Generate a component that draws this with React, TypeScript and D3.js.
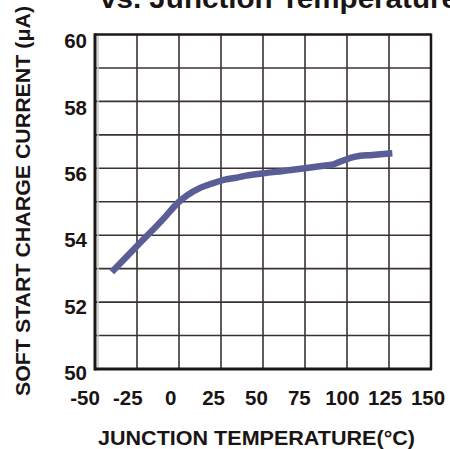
import * as d3 from "d3";
import * as React from "react";

const W = 450;
const H = 449;

// junction temperature (°C) vs soft start charge current (µA)
const temps = [-40, -25, -10, 0, 5, 12, 20, 28, 33, 40, 50, 62, 75, 85, 92, 97, 105, 115, 127];
const current = [52.9, 53.68, 54.45, 55.0, 55.2, 55.4, 55.55, 55.67, 55.71, 55.78, 55.85, 55.92, 56.0, 56.07, 56.12, 56.22, 56.35, 56.4, 56.45];

const xTicks = [-50, -25, 0, 25, 50, 75, 100, 125, 150];
const yTicks = [50, 52, 54, 56, 58, 60];
const yGridTicks = [50, 51, 52, 53, 54, 55, 56, 57, 58, 59, 60];

const FONT = "'Liberation Sans', Arial, Helvetica, sans-serif";

export default function App() {
  const margin = { top: 34.5, right: 19, bottom: 80, left: 95 };
  const x0 = margin.left,
    x1 = W - margin.right,
    y0 = H - margin.bottom,
    y1 = margin.top;

  const x = d3.scaleLinear().domain([-50, 150]).range([x0, x1]);
  const y = d3.scaleLinear().domain([50, 60]).range([y0, y1]);

  // labels in the original sit slightly off the grid
  const xLab = d3.scaleLinear().domain([-50, 150]).range([85, 428]);
  const yLab = d3.scaleLinear().domain([50, 60]).range([372.5, 41]);

  const line = d3
    .line<number>()
    .x((d, i) => x(temps[i]))
    .y((d) => y(d))
    .curve(d3.curveMonotoneX);

  const gridColor = "#3a3232";
  const axisColor = "#1c1616";

  return (
    <svg
      width={W}
      height={H}
      style={{ position: "absolute", left: 0, top: 0, background: "#fff" }}
      fontFamily={FONT}
    >
      <rect width={W} height={H} fill="#fff" />
      <text
        x={100}
        y={8}
        fontSize={28}
        fontWeight="bold"
        fill="#1a1414"
        textLength={358}
        lengthAdjust="spacingAndGlyphs"
      >
        vs. Junction Temperature
      </text>

      {/* grid */}
      {xTicks.slice(1, -1).map((t) => (
        <line key={"vx" + t} x1={x(t)} x2={x(t)} y1={y1} y2={y0} stroke={gridColor} strokeWidth={1.6} />
      ))}
      {yGridTicks.slice(1, -1).map((t) => (
        <line key={"hy" + t} x1={x0} x2={x1} y1={y(t)} y2={y(t)} stroke={gridColor} strokeWidth={1.6} />
      ))}
      <line x1={x0 + 3} x2={x0 + 3} y1={y1} y2={y0} stroke="#c8c6c6" strokeWidth={1.5} />

      {/* frame */}
      <line x1={x0} x2={x1} y1={y1} y2={y1} stroke={axisColor} strokeWidth={2.5} />
      <line x1={x1} x2={x1} y1={y1 - 1} y2={y0 + 1} stroke={axisColor} strokeWidth={2.5} />
      <line x1={x0} x2={x1 + 1} y1={y0} y2={y0} stroke={axisColor} strokeWidth={3} />
      <line x1={x0} x2={x0} y1={y1 - 1.2} y2={y0 + 1.5} stroke={axisColor} strokeWidth={3} />

      {/* curve */}
      <path
        d={line(current) || ""}
        fill="none"
        stroke="#5a5e96"
        strokeWidth={6.5}
        strokeLinejoin="round"
        strokeLinecap="butt"
      />

      {/* tick labels */}
      {yTicks.map((t) => (
        <text
          key={"yl" + t}
          x={87}
          y={yLab(t)}
          dy="0.36em"
          textAnchor="end"
          fontSize={20.5}
          fontWeight="bold"
          fill="#1a1414"
        >
          {t}
        </text>
      ))}
      {xTicks.map((t) => (
        <text
          key={"xl" + t}
          x={xLab(t)}
          y={405}
          textAnchor="middle"
          fontSize={20.5}
          fontWeight="bold"
          fill="#1a1414"
        >
          {t}
        </text>
      ))}

      {/* axis titles */}
      <text
        x={256.5}
        y={445}
        textAnchor="middle"
        fontSize={20.5}
        fontWeight="bold"
        fill="#1a1414"
        textLength={317}
        lengthAdjust="spacingAndGlyphs"
      >
        JUNCTION TEMPERATURE(°C)
      </text>
      <text
        transform="translate(30,201) rotate(-90)"
        textAnchor="middle"
        fontSize={20.5}
        fontWeight="bold"
        fill="#1a1414"
        textLength={390}
        lengthAdjust="spacingAndGlyphs"
      >
        SOFT START CHARGE CURRENT (μA)
      </text>
    </svg>
  );
}
